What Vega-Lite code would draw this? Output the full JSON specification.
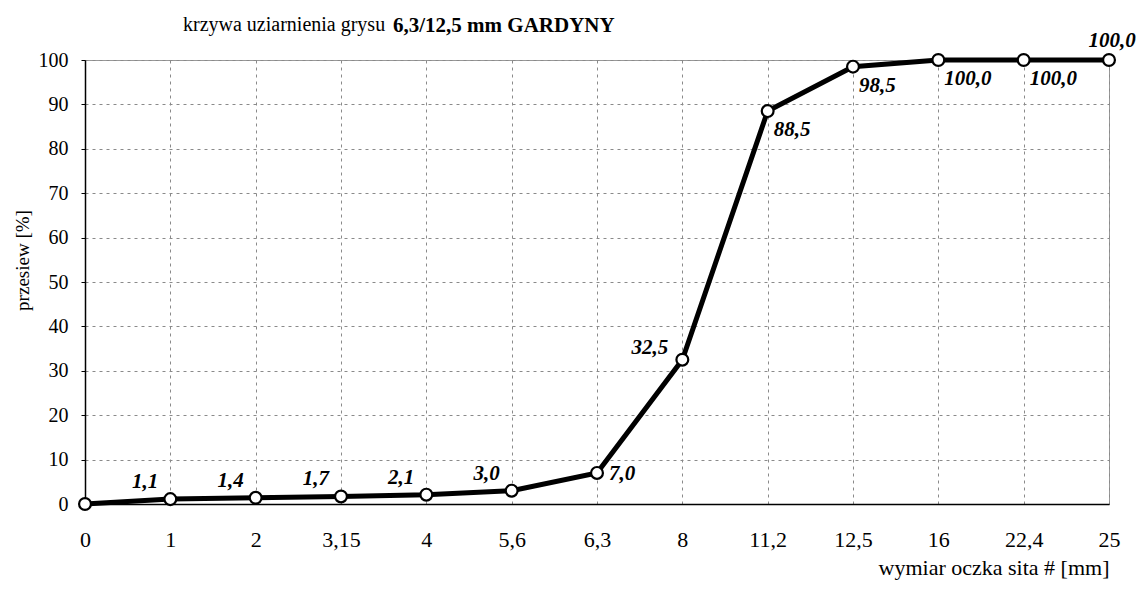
{
  "$schema": "https://vega.github.io/schema/vega-lite/v6.json",
  "autosize": "none",
  "padding": {"left": 85, "top": 60, "right": 29, "bottom": 86},
  "width": 1024,
  "height": 444,
  "background": "white",
  "config": {
    "font": "Liberation Serif",
    "locale": {"number": {"decimal": ",", "thousands": " ", "grouping": [3], "currency": ["", " zł"]}},
    "view": {"stroke": "#333", "strokeDash": [1, 1], "strokeWidth": 1},
    "axis": {"gridColor": "#8a8a8a", "gridDash": [3, 4], "gridWidth": 1, "domainColor": "#000", "domainWidth": 1.5, "labelColor": "#000", "titleColor": "#000", "labelFont": "Liberation Serif", "titleFont": "Liberation Serif", "titleFontWeight": "normal"}
  },
  "title": {
    "text": "krzywa uziarnienia grysu",
    "subtitle": "\u200b\u2002\u2002\u2002\u2002\u2002\u2002\u2002\u2002\u2002\u2002\u2002\u2002\u2002\u2002\u2002\u2002\u2002\u2002\u2002\u20026,3/12,5 mm GARDYNY",
    "anchor": "start",
    "frame": "group",
    "dx": 98,
    "font": "Liberation Serif",
    "fontSize": 20,
    "fontWeight": "normal",
    "color": "#000",
    "subtitleFont": "Liberation Serif",
    "subtitleFontSize": 21,
    "subtitleFontWeight": "bold",
    "subtitleColor": "#000",
    "subtitlePadding": -20,
    "offset": -6
  },
  "data": {
    "values": [
      {"sito": "0", "przesiew": 0.0},
      {"sito": "1", "przesiew": 1.1},
      {"sito": "2", "przesiew": 1.4},
      {"sito": "3,15", "przesiew": 1.7},
      {"sito": "4", "przesiew": 2.1},
      {"sito": "5,6", "przesiew": 3.0},
      {"sito": "6,3", "przesiew": 7.0},
      {"sito": "8", "przesiew": 32.5},
      {"sito": "11,2", "przesiew": 88.5},
      {"sito": "12,5", "przesiew": 98.5},
      {"sito": "16", "przesiew": 100.0},
      {"sito": "22,4", "przesiew": 100.0},
      {"sito": "25", "przesiew": 100.0}
    ]
  },
  "encoding": {
    "x": {
      "field": "sito", "type": "ordinal", "sort": null,
      "scale": {"type": "point", "padding": 0},
      "axis": {
        "title": "wymiar oczka sita # [mm]",
        "labelAngle": 0, "labelFontSize": 22, "labelPadding": 25, "ticks": false,
        "titleFontSize": 22, "titleAnchor": "end", "titleBaseline": "middle", "titleY": 63,
        "grid": true
      }
    },
    "y": {
      "field": "przesiew", "type": "quantitative",
      "scale": {"domain": [0, 100], "nice": false},
      "axis": {
        "title": "przesiew [%]",
        "values": [0, 10, 20, 30, 40, 50, 60, 70, 80, 90, 100],
        "labelFontSize": 20, "labelPadding": 13, "tickSize": 4, "tickColor": "#000",
        "titleFontSize": 19, "titleX": -63, "titleY": 200, "titleAngle": -90, "titleBaseline": "middle", "titleAlign": "center",
        "grid": true
      }
    }
  },
  "layer": [
    {"mark": {"type": "line", "color": "#000", "strokeWidth": 5}},
    {"mark": {"type": "point", "shape": "circle", "filled": true, "fill": "#fff", "stroke": "#000", "strokeWidth": 2.2, "size": 140, "opacity": 1}},
    {
      "transform": [{"filter": {"field": "sito", "oneOf": ["1", "2", "3,15", "4", "5,6"]}}],
      "mark": {"type": "text", "align": "right", "baseline": "alphabetic", "dx": -12, "dy": -11, "fontSize": 21, "fontWeight": "bold", "fontStyle": "italic", "font": "Liberation Serif", "color": "#000"},
      "encoding": {"text": {"field": "przesiew", "type": "quantitative", "format": ".1f"}}
    },
    {
      "transform": [{"filter": {"field": "sito", "equal": "8"}}],
      "mark": {"type": "text", "align": "right", "baseline": "alphabetic", "dx": -14, "dy": -6, "fontSize": 21, "fontWeight": "bold", "fontStyle": "italic", "font": "Liberation Serif", "color": "#000"},
      "encoding": {"text": {"field": "przesiew", "type": "quantitative", "format": ".1f"}}
    },
    {
      "transform": [{"filter": {"field": "sito", "equal": "6,3"}}],
      "mark": {"type": "text", "align": "left", "baseline": "middle", "dx": 12, "dy": 1, "fontSize": 21, "fontWeight": "bold", "fontStyle": "italic", "font": "Liberation Serif", "color": "#000"},
      "encoding": {"text": {"field": "przesiew", "type": "quantitative", "format": ".1f"}}
    },
    {
      "transform": [{"filter": {"field": "sito", "oneOf": ["11,2", "12,5", "16", "22,4"]}}],
      "mark": {"type": "text", "align": "left", "baseline": "alphabetic", "dx": 6, "dy": 25, "fontSize": 21, "fontWeight": "bold", "fontStyle": "italic", "font": "Liberation Serif", "color": "#000"},
      "encoding": {"text": {"field": "przesiew", "type": "quantitative", "format": ".1f"}}
    },
    {
      "transform": [{"filter": {"field": "sito", "equal": "25"}}],
      "mark": {"type": "text", "align": "center", "baseline": "alphabetic", "dx": 3, "dy": -13, "fontSize": 21, "fontWeight": "bold", "fontStyle": "italic", "font": "Liberation Serif", "color": "#000"},
      "encoding": {"text": {"field": "przesiew", "type": "quantitative", "format": ".1f"}}
    }
  ]
}
